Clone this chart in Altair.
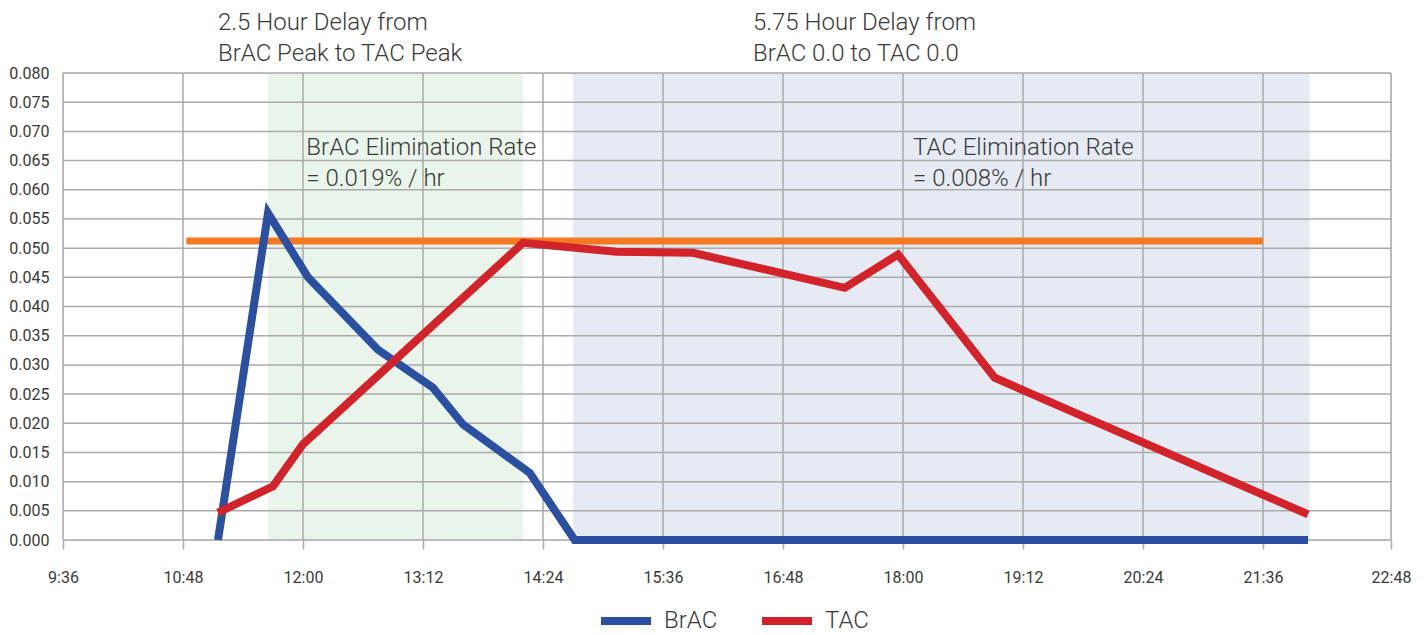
import altair as alt
import pandas as pd

# ---- data ----
brac_times = ["11:09", "11:39", "12:03", "12:45", "13:18", "13:36", "14:16", "14:43", "22:03"]
brac_values = [0.0, 0.056, 0.045, 0.0326, 0.0261, 0.0198, 0.0115, 0.0, 0.0]

tac_times = ["11:09", "11:42", "12:00", "14:12", "15:08", "15:54", "17:25", "17:57", "18:55", "22:03"]
tac_values = [0.0047, 0.0092, 0.0164, 0.0509, 0.0494, 0.0492, 0.0432, 0.0489, 0.0278, 0.0044]

threshold_times = ["10:50", "21:36"]
threshold_values = [0.0512, 0.0512]

band_starts = ["11:39", "14:42"]
band_ends = ["14:12", "22:04"]
band_names = ["peak delay", "zero delay"]
band_colors = ["#E9F4EA", "#E6EAF3"]

ann_texts = [
    "2.5 Hour Delay from\nBrAC Peak to TAC Peak",
    "5.75 Hour Delay from\nBrAC 0.0 to TAC 0.0",
    "BrAC Elimination Rate\n= 0.019% / hr",
    "TAC Elimination Rate\n= 0.008% / hr",
]
ann_times = ["11:09", "16:30", "12:02", "18:06"]
ann_values = [0.0874, 0.0874, 0.0659, 0.0659]

x_tick_minutes = [576, 648, 720, 792, 864, 936, 1008, 1080, 1152, 1224, 1296, 1372.8]
x_tick_labels = ["9:36", "10:48", "12:00", "13:12", "14:24", "15:36", "16:48",
                 "18:00", "19:12", "20:24", "21:36", "22:48"]
y_ticks = [0.0, 0.005, 0.01, 0.015, 0.02, 0.025, 0.03, 0.035, 0.04,
           0.045, 0.05, 0.055, 0.06, 0.065, 0.07, 0.075, 0.08]


def to_min(s):
    h, m = s.split(":")
    return int(h) * 60 + int(m)


series_df = pd.DataFrame(
    [{"series": "BrAC", "t": to_min(t), "v": v} for t, v in zip(brac_times, brac_values)]
    + [{"series": "TAC", "t": to_min(t), "v": v} for t, v in zip(tac_times, tac_values)]
)
thr_df = pd.DataFrame({"t": [to_min(t) for t in threshold_times], "v": threshold_values})
band_df = pd.DataFrame({
    "name": band_names,
    "t0": [to_min(t) for t in band_starts],
    "t1": [to_min(t) for t in band_ends],
})
ann_df = pd.DataFrame({"text": ann_texts, "t": [to_min(t) for t in ann_times], "v": ann_values})
xgrid_df = pd.DataFrame({"t": x_tick_minutes})
ygrid_df = pd.DataFrame({"v": y_ticks})

GRID = "#AAAAAA"
TEXT = "#3A3A3A"
FONT = "Roboto"

label_expr = "[{}][indexof([{}], datum.value)]".format(
    ",".join("'" + s + "'" for s in x_tick_labels),
    ",".join(str(v) for v in x_tick_minutes),
)

xscale = alt.Scale(domain=[576, 1372.8], nice=False, zero=False)
yscale = alt.Scale(domain=[0, 0.08], nice=False, zero=True)

xaxis = alt.Axis(values=x_tick_minutes, labelExpr=label_expr, grid=False, domain=False,
                 ticks=True, tickSize=9, tickColor=GRID, tickWidth=1.5,
                 labelFont=FONT, labelFontSize=16, labelColor=TEXT, labelPadding=20,
                 labelFlush=False, labelOverlap=False, title=None)
yaxis = alt.Axis(values=y_ticks, format=".3f", grid=False, domain=False, ticks=False,
                 labelFont=FONT, labelFontSize=16, labelColor=TEXT, labelPadding=14,
                 title=None)

bands = alt.Chart(band_df).mark_rect().encode(
    x=alt.X("t0:Q", scale=xscale, axis=xaxis),
    x2="t1:Q",
    color=alt.Color("name:N", scale=alt.Scale(domain=band_names, range=band_colors), legend=None),
)

vgrid = alt.Chart(xgrid_df).mark_rule(color=GRID, strokeWidth=1.5).encode(
    x=alt.X("t:Q", scale=xscale, axis=xaxis)
)
hgrid = alt.Chart(ygrid_df).mark_rule(color=GRID, strokeWidth=1.5).encode(
    y=alt.Y("v:Q", scale=yscale, axis=yaxis)
)

threshold = alt.Chart(thr_df).mark_line(color="#F47920", strokeWidth=7, strokeCap="butt").encode(
    x=alt.X("t:Q", scale=xscale, axis=xaxis),
    y=alt.Y("v:Q", scale=yscale, axis=yaxis),
)

lines = alt.Chart(series_df).mark_line(strokeWidth=8, strokeJoin="miter", strokeCap="butt").encode(
    x=alt.X("t:Q", scale=xscale, axis=xaxis),
    y=alt.Y("v:Q", scale=yscale, axis=yaxis),
    stroke=alt.Stroke(
        "series:N",
        scale=alt.Scale(domain=["BrAC", "TAC"], range=["#2B4FA1", "#D2232A"]),
        legend=alt.Legend(
            orient="none", legendX=534, legendY=519, direction="horizontal", title=None,
            symbolType="stroke", symbolSize=2500, symbolStrokeWidth=8,
            labelFont=FONT, labelFontSize=24, labelFontWeight=300, labelColor=TEXT,
            labelOffset=9, columnPadding=28, padding=0,
        ),
    ),
)

annotations = alt.Chart(ann_df).mark_text(
    align="left", baseline="alphabetic", lineBreak="\n", lineHeight=31,
    font=FONT, fontSize=24, fontWeight=300, color=TEXT,
).encode(
    x=alt.X("t:Q", scale=xscale, axis=xaxis),
    y=alt.Y("v:Q", scale=yscale, axis=yaxis),
    text="text:N",
)

chart = alt.layer(bands, vgrid, hgrid, threshold, lines, annotations).properties(
    width=1328,
    height=467,
    autosize=alt.AutoSizeParams(type="none"),
    padding={"left": 55, "top": 65, "right": 27, "bottom": 95},
).configure_view(stroke=None).configure(background="white")

chart.save("out.html", embed_options={"renderer": "svg", "actions": False})
